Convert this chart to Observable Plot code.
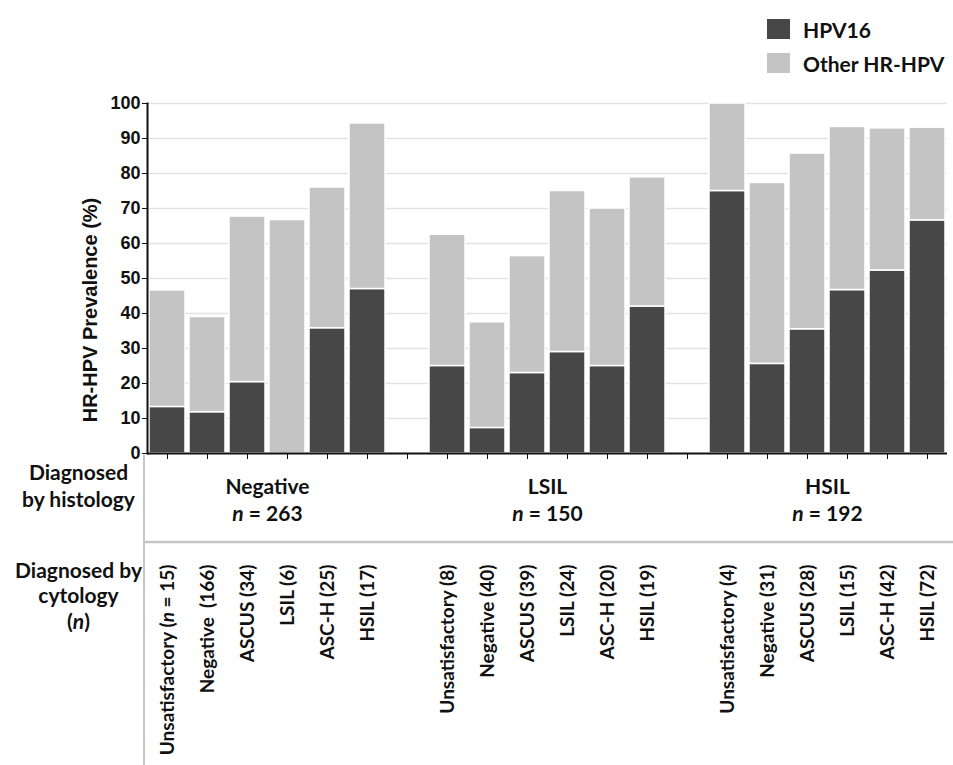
<!DOCTYPE html>
<html><head><meta charset="utf-8">
<script src="https://cdn.jsdelivr.net/npm/d3@7"></script>
<script src="https://cdn.jsdelivr.net/npm/@observablehq/plot@0.6"></script>
<style>
body{margin:0;background:#fff;}
#wrap{position:relative;width:953px;height:765px;}
#legend{position:absolute;left:767px;top:12px;font-family:Lato,sans-serif;font-weight:700;font-size:21px;color:#111;}
.item{display:flex;align-items:center;height:34px;}
.sw{width:23px;height:20px;margin-right:13px;}
</style></head><body><div id="wrap"><div id="legend"></div></div>
<script>
// ---- data ----
const histology = ["Negative", "LSIL", "HSIL"];
const histologyN = [263, 150, 192];
const cytology = ["Unsatisfactory", "Negative", "ASCUS", "LSIL", "ASC-H", "HSIL"];
const cytologyN = [[15, 166, 34, 6, 25, 17], [8, 40, 39, 24, 20, 19], [4, 31, 28, 15, 42, 72]];
const hpv16 = [[13.3, 11.8, 20.4, 0, 35.8, 47.0], [25.0, 7.3, 23.0, 29.0, 25.0, 42.0], [75.0, 25.6, 35.5, 46.7, 52.3, 66.6]];
const anyHR = [[46.6, 39.0, 67.7, 66.7, 76.0, 94.3], [62.5, 37.5, 56.4, 75.0, 70.0, 78.9], [100, 77.3, 85.7, 93.3, 92.9, 93.1]];
const yTicks = [0, 10, 20, 30, 40, 50, 60, 70, 80, 90, 100];
const seriesNames = ["HPV16", "Other HR-HPV"];
const seriesColors = ["#474747", "#c4c4c4"];

// ---- build table ----
const rows = [];
const domain = [];
const labelOf = new Map();
histology.forEach((h, g) => {
  cytology.forEach((c, i) => {
    const slot = `${h}-${i}`;
    domain.push(slot);
    const n = cytologyN[g][i];
    const lab = (g === 0 && i === 0) ? `${c} (n = ${n})` : (g === 0 && i === 1) ? `${c}  (${n})` : `${c} (${n})`;
    labelOf.set(slot, lab);
    rows.push({slot, hist: h, cyt: c, n, hpv16: hpv16[g][i], total: anyHR[g][i]});
  });
  if (g < histology.length - 1) { const k = `gap-${g}`; domain.push(k); labelOf.set(k, ""); }
});
const groups = histology.map((h, g) => ({slot: `${h}-2`, name: h, nText: `n = ${histologyN[g]}`}));

const labelFont = "Lato, sans-serif";
const plot = Plot.plot({
  width: 953, height: 765,
  marginTop: 103, marginBottom: 312, marginLeft: 147, marginRight: 6,
  style: {background: "white", color: "#111"},
  x: {domain, paddingInner: 0.1, paddingOuter: 0.05, axis: null},
  y: {domain: [0, 100], axis: null},
  marks: [
    Plot.ruleY(yTicks.filter(d => d > 0), {stroke: "#e2e2e2", strokeWidth: 1.5}),
    Plot.rectY(rows, {x: "slot", y1: 0, y2: "hpv16", fill: seriesColors[0], stroke: "white", strokeWidth: 1.5}),
    Plot.rectY(rows, {x: "slot", y1: "hpv16", y2: "total", fill: seriesColors[1], stroke: "white", strokeWidth: 1.5}),
    Plot.axisY({ticks: yTicks, tickSize: 5, tickPadding: 2, label: null, fontSize: 18, fontWeight: 700, fontFamily: "Liberation Sans, Arial, sans-serif", fill: "#111"}),
    Plot.axisX({tickSize: 6, tickPadding: 105, tickRotate: -90, tickFormat: d => labelOf.get(d), label: null, fontSize: 19, fontWeight: 700, fontFamily: labelFont, fill: "#111"}),
    Plot.ruleY([0], {stroke: "#111", strokeWidth: 2}),
    Plot.frame({anchor: "left", stroke: "#111", strokeWidth: 2}),
    Plot.text(["HR-HPV Prevalence (%)"], {frameAnchor: "left", y: () => 41, dx: -57, rotate: -90, textAnchor: "middle", fontSize: 20, fontWeight: 700, fontFamily: "Liberation Sans, Arial, sans-serif", fill: "#111"}),
    Plot.text(groups, {x: "slot", text: "name", frameAnchor: "bottom", dx: 20, dy: 40, fontSize: 21, fontWeight: 700, fontFamily: labelFont, fill: "#111"}),
    Plot.text(groups, {x: "slot", text: "nText", frameAnchor: "bottom", dx: 20, dy: 67, fontSize: 21, fontWeight: 700, fontFamily: labelFont, fill: "#111"}),
    Plot.text(["Diagnosed\nby histology"], {frameAnchor: "bottom-left", textAnchor: "middle", dx: -69, dy: 53.5, lineHeight: 1.28, fontSize: 21, fontWeight: 700, fontFamily: labelFont, fill: "#111"}),
    Plot.text(["Diagnosed by\ncytology\n(n)"], {frameAnchor: "bottom-left", textAnchor: "middle", dx: -69, dy: 175, lineHeight: 1.2, fontSize: 21, fontWeight: 700, fontFamily: labelFont, fill: "#111"})
  ]
});

// table separator lines
const svg = d3.select(plot);
svg.append("line").attr("x1", 144).attr("x2", 144).attr("y1", 455).attr("y2", 765).attr("stroke", "#c6c6c6").attr("stroke-width", 2);
svg.append("line").attr("x1", 144).attr("x2", 953).attr("y1", 542).attr("y2", 542).attr("stroke", "#c6c6c6").attr("stroke-width", 2.5);

// italic n
function italicize(el) {
  const t = el.textContent;
  const m = t.match(/(^|\()n(?=\s*=|\))/);
  if (!m) return;
  const idx = m.index + m[1].length;
  el.textContent = "";
  const s = d3.select(el);
  s.append("tspan").text(t.slice(0, idx));
  s.append("tspan").attr("font-style", "italic").text("n");
  s.append("tspan").text(t.slice(idx + 1));
}
svg.selectAll("text").each(function () {
  const tspans = this.querySelectorAll("tspan");
  if (tspans.length) tspans.forEach(italicize); else italicize(this);
});

document.getElementById("wrap").prepend(plot);
const leg = d3.select("#legend");
seriesNames.forEach((n, i) => {
  const it = leg.append("div").attr("class", "item");
  it.append("div").attr("class", "sw").style("background", seriesColors[i]);
  it.append("span").text(n);
});
</script></body></html>
